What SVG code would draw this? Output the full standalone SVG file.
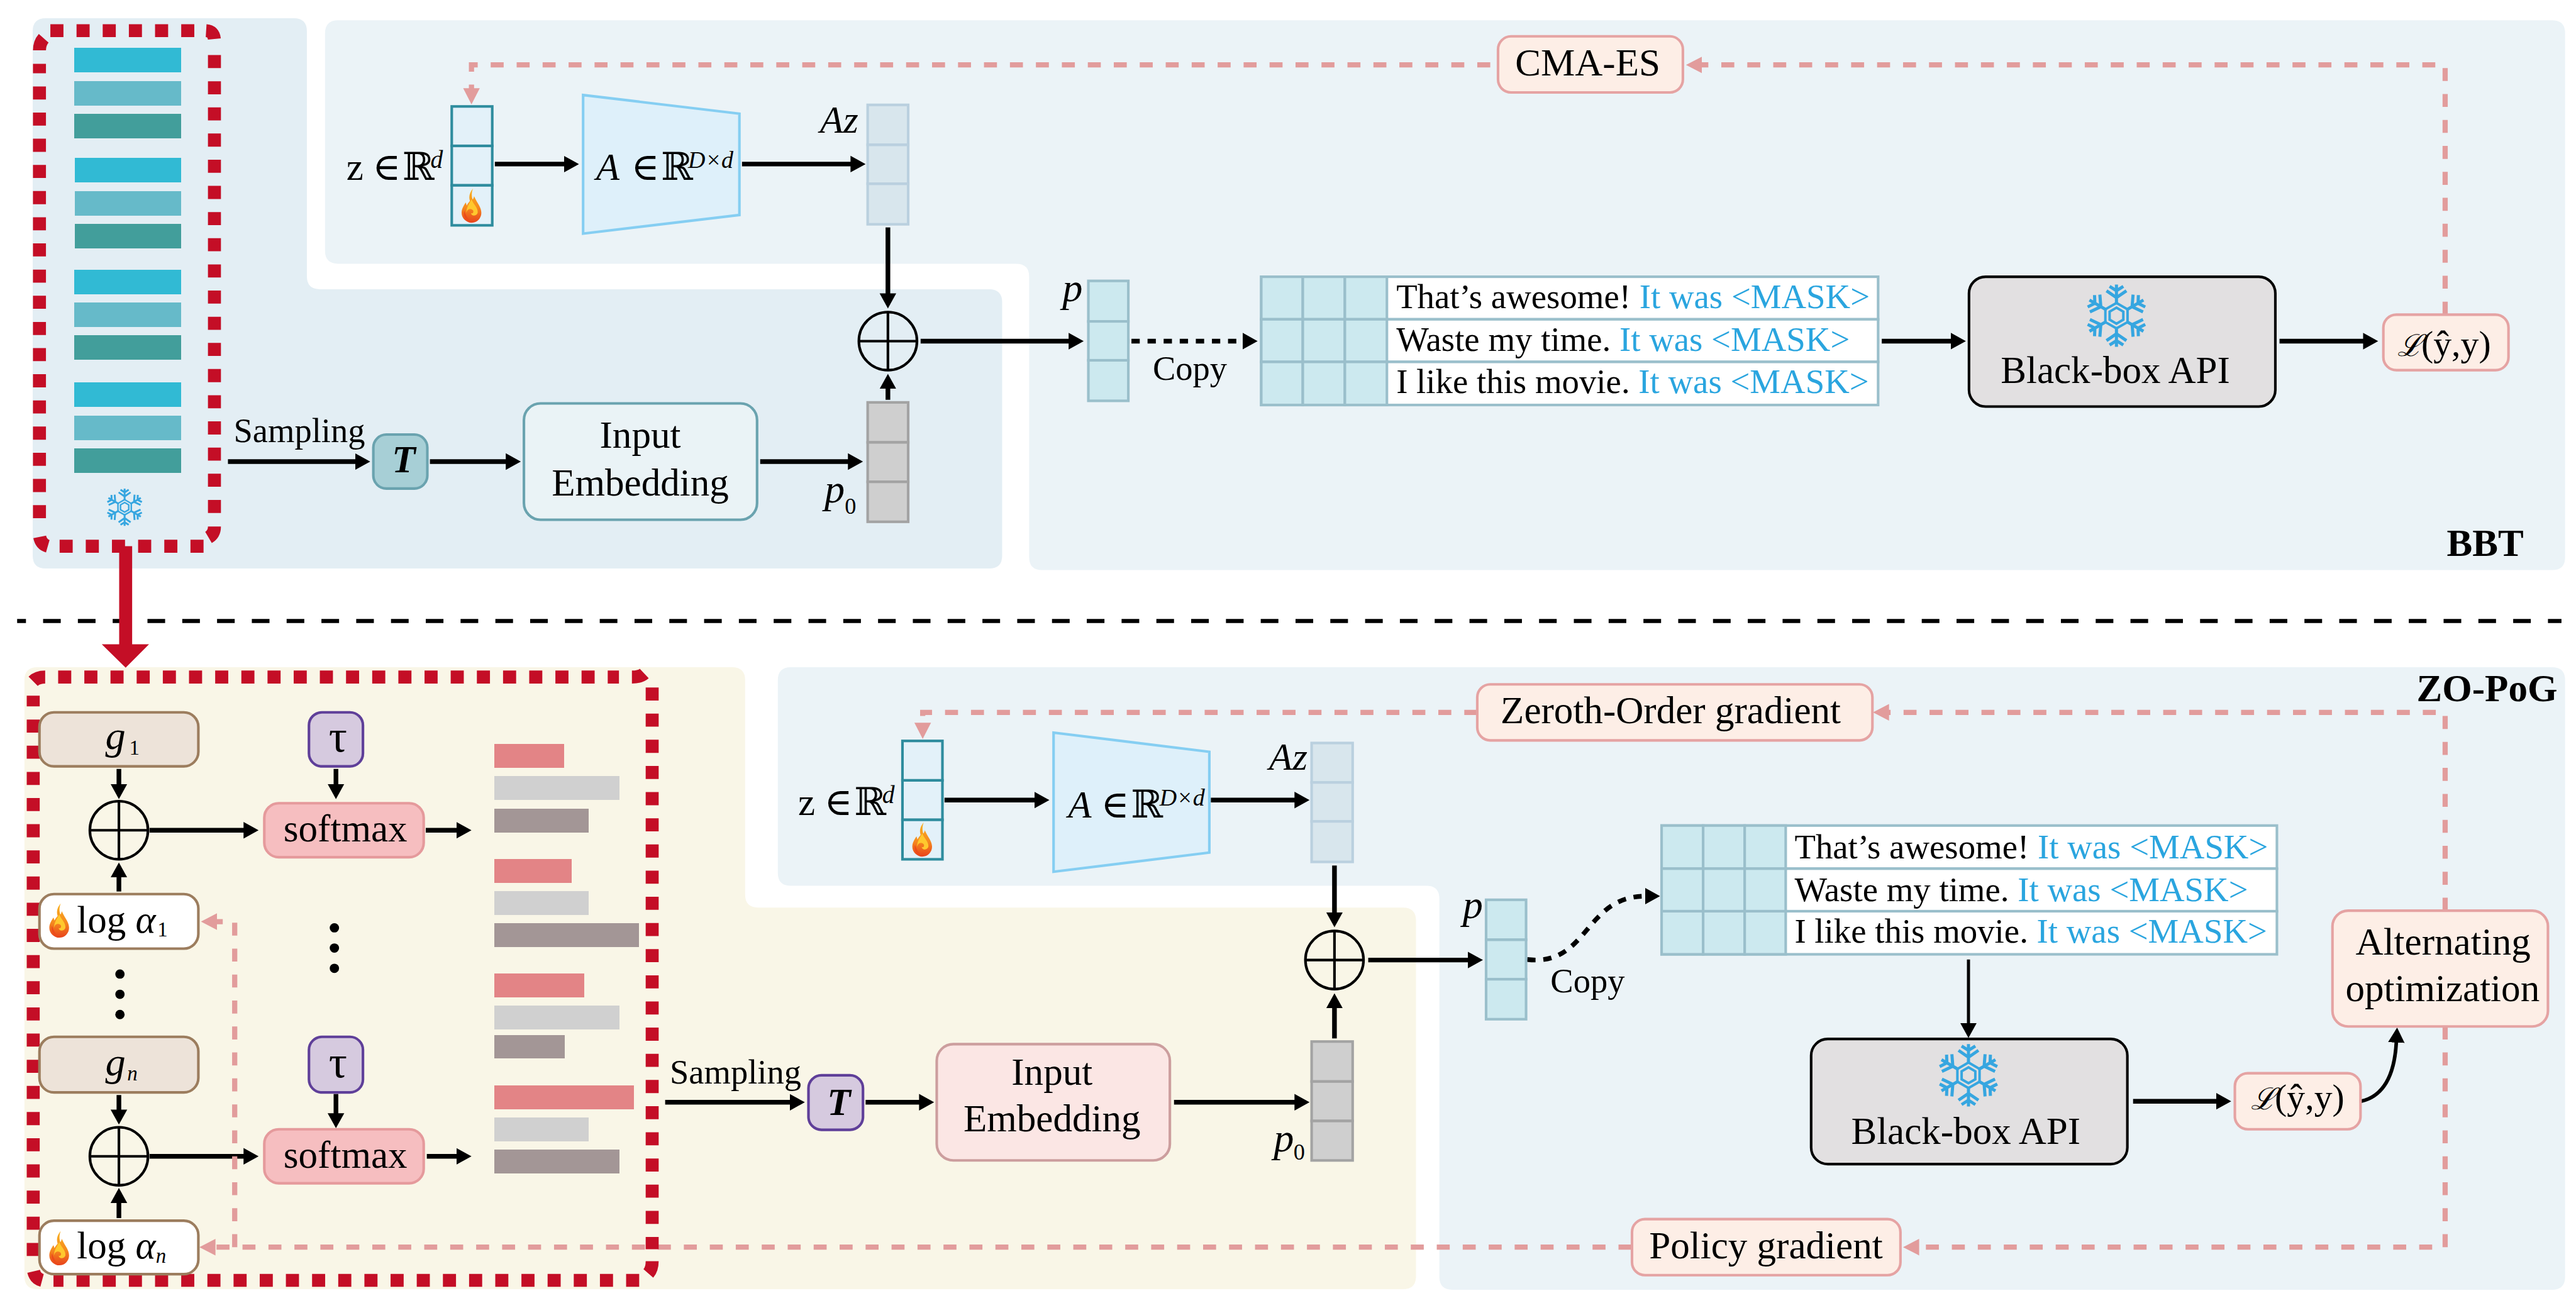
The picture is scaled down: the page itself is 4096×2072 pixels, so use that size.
<svg xmlns="http://www.w3.org/2000/svg" width="4096" height="2072" viewBox="0 0 4096 2072">
<style>
text{font-family:"Liberation Serif","DejaVu Serif",serif;fill:#000}
.s74{font-size:74px}.s66{font-size:66px}.s46{font-size:46px}.s48{font-size:48px}.s44{font-size:44px}.s40{font-size:40px}.s70{font-size:70px}.s58{font-size:58px}.s88{font-size:88px}.s78{font-size:78px}.s664{font-size:66.4px}
.i{font-style:italic}.b{font-weight:bold}
.blue{fill:#2AA5DF}
.sys{font-family:"DejaVu Serif","Liberation Serif",serif}
.ln{fill:none;stroke:#000;stroke-width:9}
.thin{fill:none;stroke:#000;stroke-width:5}
.pk{fill:none;stroke:#E29C9C;stroke-width:10;stroke-dasharray:25 25}
.bar{shape-rendering:crispEdges}
.red{fill:none;stroke:#C40E26;stroke-width:25;stroke-dasharray:25.2 25.2}
.pbox{fill:#FDEEE6;stroke:#E5A3A3;stroke-width:5}
.gumb{fill:#EDE3D9;stroke:#9C7D5E;stroke-width:5}
.logb{fill:#fff;stroke:#9C7D5E;stroke-width:5}
.tau{fill:#D6CADF;stroke:#5F3F99;stroke-width:5}
.soft{fill:#F6BEC0;stroke:#E59A9C;stroke-width:5}
.api{fill:#E2E0E1;stroke:#000;stroke-width:5}
.cellz{fill:#E3F1F9;stroke:#2E8C9E;stroke-width:5}
.cella{fill:#D8E6ED;stroke:#BAD0DF;stroke-width:5}
.cellp{fill:#CCE9EF;stroke:#9ABFCB;stroke-width:5}
.cell0{fill:#CFCFCF;stroke:#A3A3A3;stroke-width:5}
.trap{fill:#DEF0FA;stroke:#85CEF2;stroke-width:5}
.w{fill:#fff;stroke:#9ABFCB;stroke-width:5}
</style>
<defs>
<marker id="ah" markerUnits="userSpaceOnUse" markerWidth="30" markerHeight="34" refX="1" refY="17" orient="auto"><path d="M0,1 L29,17 L0,33Z" fill="#000"/></marker>
<marker id="ap" markerUnits="userSpaceOnUse" markerWidth="32" markerHeight="34" refX="1" refY="17" orient="auto"><path d="M0,1 L31,17 L0,33Z" fill="#E29C9C"/></marker>
<linearGradient id="fg" x1="0" y1="0" x2="0" y2="1"><stop offset="0" stop-color="#F9B21F"/><stop offset=".55" stop-color="#F58A1F"/><stop offset="1" stop-color="#E8431C"/></linearGradient>
<g id="flame">
<path fill="url(#fg)" d="M3,-33 C-3,-26 -6,-18 -3,-9 C-6,-5 -8,-3 -9,0 L-11,-6 C-15,0 -19,6 -19,14 C-19,25 -9,33 0,33 C11,33 19,24 19,14 C19,4 12,-4 8,-12 L5,-18 C4,-14 3,-12 2,-12 C0,-18 0,-26 3,-33Z"/>
<path fill="#FFC82E" d="M0,-12 C-4,-4 -10,4 -10,14 C-8,6 -2,4 3,9 C5,14 1,16 -1,14 C0,22 10,20 12,14 C13,4 4,-2 0,-12Z"/>
<path fill="#EC4B1B" d="M-14,10 C-17,20 -10,31 0,32 C-8,26 -11,18 -14,10Z"/>
</g>
<g id="arm"><path fill="none" stroke="#36A6E0" stroke-width="5" d="M0,-18 V-50 M-11,-47 L0,-40 L11,-47 M-16,-40 L0,-29 L16,-40"/></g>
<g id="flake">
<path fill="none" stroke="#36A6E0" stroke-width="4" d="M0,-20.5 L17.8,-10.2 V10.2 L0,20.5 L-17.8,10.2 V-10.2Z M0,-12.8 L11,-6.4 V6.4 L0,12.8 L-11,6.4 V-6.4Z"/>
<use href="#arm"/><use href="#arm" transform="rotate(60)"/><use href="#arm" transform="rotate(120)"/><use href="#arm" transform="rotate(180)"/><use href="#arm" transform="rotate(240)"/><use href="#arm" transform="rotate(300)"/>
</g>
</defs>
<g transform="scale(0.82564)">
<g id="panels">
<path fill="#E3EEF4" d="M88,35 H566 Q591,35 591,60 V532 Q591,557 616,557 H1905 Q1930,557 1930,582 V1070 Q1930,1095 1905,1095 H88 Q63,1095 63,1070 V60 Q63,35 88,35Z"/>
<path fill="#EBF3F7" d="M651,39 H4915 Q4940,39 4940,64 V1073 Q4940,1098 4915,1098 H2007 Q1982,1098 1982,1073 V533 Q1982,508 1957,508 H651 Q626,508 626,483 V64 Q626,39 651,39Z"/>
<path fill="#F9F6E7" d="M72,1285 H1410 Q1435,1285 1435,1310 V1723 Q1435,1748 1460,1748 H2702 Q2727,1748 2727,1773 V2458 Q2727,2483 2702,2483 H72 Q47,2483 47,2458 V1310 Q47,1285 72,1285Z"/>
<path fill="#EBF3F7" d="M1523,1285 H4915 Q4940,1285 4940,1310 V2459 Q4940,2484 4915,2484 H2797 Q2772,2484 2772,2459 V1731 Q2772,1706 2747,1706 H1523 Q1498,1706 1498,1681 V1310 Q1498,1285 1523,1285Z"/>
</g>
<g id="separator"><path d="M33,1196 H4933" fill="none" stroke="#000" stroke-width="8" stroke-dasharray="34 33" stroke-dashoffset="17"/></g>

<g id="prompt-pool-top">
<g class="bar"><rect x="143" y="92" width="206" height="47" fill="#31BAD4"/><rect x="143" y="156" width="206" height="47" fill="#66BAC9"/><rect x="143" y="219" width="206" height="47" fill="#429E9B"/>
<rect x="144" y="304" width="205" height="47" fill="#31BAD4"/><rect x="144" y="368" width="205" height="47" fill="#66BAC9"/><rect x="144" y="431" width="205" height="47" fill="#429E9B"/>
<rect x="143" y="520" width="206" height="47" fill="#31BAD4"/><rect x="143" y="583" width="206" height="47" fill="#66BAC9"/><rect x="143" y="646" width="206" height="47" fill="#429E9B"/>
<rect x="143" y="737" width="206" height="47" fill="#31BAD4"/><rect x="143" y="801" width="206" height="47" fill="#66BAC9"/><rect x="143" y="864" width="206" height="47" fill="#429E9B"/></g>
<use href="#flake" transform="translate(240,977) scale(.72)"/>
<path class="red" d="M97,59 H375 M397,59 Q413,60 413,79 M413,106 V989 M413,1014 Q413,1032 395,1038 M392,1052 H114 M92,1052 Q78,1048 76,1031 M76,998 V123 M76,97 Q76,80 88,70"/>
<path d="M229.500,1052 H254.500 V1241 H287 L242,1286 L196,1241 H229.500Z" fill="#C40E26"/>
</g>

<g id="connectors">
<g id="conn-black">
<path class="ln" marker-end="url(#ah)" d="M953,316 H1087"/>
<path class="ln" marker-end="url(#ah)" d="M1429,316 H1639"/>
<path class="ln" marker-end="url(#ah)" d="M1710,438 V566"/>
<path class="ln" marker-end="url(#ah)" d="M1710,770 V748"/>
<path class="ln" marker-end="url(#ah)" d="M1773,657 H2059"/>
<path class="ln" marker-end="url(#ah)" stroke-dasharray="16 15" d="M2179,657 H2394"/>
<path class="ln" marker-end="url(#ah)" d="M439,889 H685"/>
<path class="ln" marker-end="url(#ah)" d="M828,889 H975"/>
<path class="ln" marker-end="url(#ah)" d="M1464,889 H1634"/>
<path class="ln" marker-end="url(#ah)" d="M3624,657 H3758"/>
<path class="ln" marker-end="url(#ah)" d="M4390,657 H4552"/>
<path class="ln" marker-end="url(#ah)" d="M229,1481 V1511"/>
<path class="ln" marker-end="url(#ah)" d="M229,1717 V1689"/>
<path class="ln" marker-end="url(#ah)" d="M288,1599 H470"/>
<path class="ln" marker-end="url(#ah)" d="M647,1481 V1511"/>
<path class="ln" marker-end="url(#ah)" d="M820,1599 H880"/>
<path class="ln" marker-end="url(#ah)" d="M229,2109 V2138"/>
<path class="ln" marker-end="url(#ah)" d="M229,2346 V2316"/>
<path class="ln" marker-end="url(#ah)" d="M288,2227 H470"/>
<path class="ln" marker-end="url(#ah)" d="M647,2107 V2145"/>
<path class="ln" marker-end="url(#ah)" d="M822,2227 H880"/>
<path class="ln" marker-end="url(#ah)" d="M1819,1541 H1993"/>
<path class="ln" marker-end="url(#ah)" d="M2332,1541 H2494"/>
<path class="ln" marker-end="url(#ah)" d="M2570,1667 V1758"/>
<path class="ln" marker-end="url(#ah)" d="M2570,2000 V1941"/>
<path class="ln" marker-end="url(#ah)" d="M2635,1849 H2828"/>
<path class="ln" marker-end="url(#ah)" d="M1281,2123 H1522"/>
<path class="ln" marker-end="url(#ah)" d="M1667,2123 H1771"/>
<path class="ln" marker-end="url(#ah)" d="M2261,2123 H2494"/>
<path class="ln" marker-end="url(#ah)" stroke-dasharray="16 15" d="M2941,1848 C3060,1862 3050,1726 3169,1726"/>
<path class="ln" style="stroke-width:6" marker-end="url(#ah)" d="M3791,1848 V1971"/>
<path class="ln" marker-end="url(#ah)" d="M4108,2121 H4269"/>
<path class="ln" style="stroke-width:7" marker-end="url(#ah)" d="M4547,2121 C4596,2110 4612,2062 4615,2007"/>
</g>
<g id="conn-pink">
<path class="pk" marker-end="url(#ap)" d="M4709,606 V125 H3277"/>
<path class="pk" marker-end="url(#ap)" style="stroke-dashoffset:35" d="M2885,125 H908 V171"/>
<path class="pk" marker-end="url(#ap)" d="M4709,1754 V1372 H3637"/>
<path class="pk" marker-end="url(#ap)" d="M2845,1372 H1777 V1393"/>
<path class="pk" marker-end="url(#ap)" d="M4709,1977 V2402 H3695"/>
<path class="pk" marker-end="url(#ap)" d="M3142,2402 H414"/>
<path class="pk" marker-end="url(#ap)" d="M452,2402 V1775 H417"/>
</g>
</g>

<g id="sum-top"><g class="thin"><circle cx="1710" cy="657" r="56"/><path d="M1654,657 H1766 M1710,601 V713"/></g></g>
<g id="z-top">
<rect class="cellz" x="870" y="205" width="78" height="76"/><rect class="cellz" x="870" y="281" width="78" height="76"/><rect class="cellz" x="870" y="357" width="78" height="77"/>
<use href="#flame" transform="translate(908,396)"/>
<text class="s74" x="667" y="346">z</text><text class="s74 sys" x="717" y="346">∈</text><text class="s74 sys" x="775" y="346">ℝ</text><text class="s48 i" x="829" y="323">d</text>
</g>
<g id="matrix-top">
<path class="trap" d="M1123,183 L1424,219 V414 L1123,450Z"/>
<text class="s74 i" x="1148" y="346">A</text><text class="s74 sys" x="1215" y="346">∈</text><text class="s74 sys" x="1273" y="346">ℝ</text><text class="s46 i" x="1325" y="323">D×d</text>
</g>
<g id="az-top">
<rect class="cella" x="1671" y="202" width="78" height="77"/><rect class="cella" x="1671" y="279" width="78" height="75"/><rect class="cella" x="1671" y="354" width="78" height="78"/>
<text class="s74 i" x="1579" y="256">Az</text>
</g>
<g id="p-top">
<rect class="cellp" x="2096" y="541" width="77" height="78"/><rect class="cellp" x="2096" y="619" width="77" height="75"/><rect class="cellp" x="2096" y="694" width="77" height="78"/>
<text class="s78 i" x="2046" y="580">p</text>
</g>
<g id="p0-top">
<rect class="cell0" x="1671" y="775" width="78" height="77"/><rect class="cell0" x="1671" y="852" width="78" height="76"/><rect class="cell0" x="1671" y="928" width="78" height="77"/>
<text class="s78 i" x="1588" y="968">p</text><text class="s44" x="1627" y="990">0</text>
</g>
<text id="copy-top" class="s66" x="2220" y="732">Copy</text>
<text id="sampling-top" class="s66" x="450" y="852">Sampling</text>
<g id="t-top"><rect x="719" y="837" width="104" height="104" rx="25" fill="#A7CFD6" stroke="#6AA3AF" stroke-width="5"/><text class="s74 i b" x="755" y="910">T</text></g>
<g id="embed-top"><rect x="1009" y="777" width="449" height="224" rx="32" fill="#EAF3F6" stroke="#6AA3AF" stroke-width="5"/>
<text class="s74" x="1233" y="862" text-anchor="middle">Input</text><text class="s74" x="1233" y="954" text-anchor="middle">Embedding</text></g>
<g id="table-top">
<rect class="w" x="2429" y="533" width="1188" height="82"/><rect class="w" x="2429" y="615" width="1188" height="82"/><rect class="w" x="2429" y="697" width="1188" height="83"/>
<g class="cellp"><rect x="2429" y="533" width="80" height="82"/><rect x="2509" y="533" width="81" height="82"/><rect x="2590" y="533" width="81" height="82"/><rect x="2429" y="615" width="80" height="82"/><rect x="2509" y="615" width="81" height="82"/><rect x="2590" y="615" width="81" height="82"/><rect x="2429" y="697" width="80" height="83"/><rect x="2509" y="697" width="81" height="83"/><rect x="2590" y="697" width="81" height="83"/></g>
<text class="s664" x="2689" y="594">That’s awesome! <tspan class="blue">It was &lt;MASK&gt;</tspan></text>
<text class="s664" x="2689" y="676">Waste my time. <tspan class="blue">It was &lt;MASK&gt;</tspan></text>
<text class="s664" x="2689" y="757">I like this movie. <tspan class="blue">It was &lt;MASK&gt;</tspan></text>
</g>
<g id="api-top"><rect class="api" x="3792" y="533" width="590" height="250" rx="32"/><use href="#flake" transform="translate(4076,608) scale(1.2)"/><text class="s74" x="3853" y="738">Black-box API</text></g>
<g id="loss-top"><rect class="pbox" x="4590" y="606" width="241" height="107" rx="25"/><text class="s58 sys i" x="4617" y="686">ℒ</text><text class="s70" x="4663" y="686">(ŷ,y)</text></g>
<g id="cma"><rect class="pbox" x="2885" y="70" width="356" height="108" rx="25"/><text class="s74" x="2918" y="145">CMA-ES</text></g>
<text id="bbt" class="s74 b" x="4712" y="1071">BBT</text>

<g id="bars-bottom" class="bar">
<rect x="952" y="1433" width="135" height="46" fill="#E38486"/><rect x="952" y="1495" width="241" height="46" fill="#D0D0D0"/><rect x="952" y="1557" width="182" height="46" fill="#A39696"/>
<rect x="952" y="1654" width="149" height="46" fill="#E38486"/><rect x="952" y="1716" width="182" height="46" fill="#D0D0D0"/><rect x="952" y="1778" width="279" height="46" fill="#A39696"/>
<rect x="952" y="1875" width="173" height="46" fill="#E38486"/><rect x="952" y="1937" width="241" height="46" fill="#D0D0D0"/><rect x="952" y="1993" width="136" height="46" fill="#A39696"/>
<rect x="952" y="2090" width="269" height="46" fill="#E38486"/><rect x="952" y="2152" width="182" height="46" fill="#D0D0D0"/><rect x="952" y="2214" width="241" height="46" fill="#A39696"/>
</g>
<g id="red-box-bottom"><path class="red" d="M112,1304 H1192 M1217,1304 Q1238,1304 1244,1293 M1256,1324 V2406 M1256,2429 Q1256,2450 1242,2458 M1231,2466 H103 M81,2466 Q66,2462 64,2444 M64,2419 V1340 M87,1304 Q68,1304 60,1317"/></g>
<g id="g1"><rect class="gumb" x="76" y="1372" width="306" height="104" rx="28"/><text class="s78 i" x="203" y="1443">g</text><text class="s40" x="249" y="1453">1</text></g>
<g id="sum1"><g class="thin"><circle cx="229" cy="1599" r="56"/><path d="M173,1599 H285 M229,1543 V1655"/></g></g>
<g id="log1"><rect class="logb" x="76" y="1722" width="306" height="105" rx="28"/><use href="#flame" transform="translate(114,1773)"/><text class="s74" x="148" y="1796">log</text><text class="s74 i" x="261" y="1796">α</text><text class="s40" x="303" y="1804">1</text></g>
<g id="gn"><rect class="gumb" x="76" y="1997" width="306" height="107" rx="28"/><text class="s78 i" x="203" y="2071">g</text><text class="s40 i" x="245" y="2081">n</text></g>
<g id="sumn"><g class="thin"><circle cx="229" cy="2227" r="56"/><path d="M173,2227 H285 M229,2171 V2283"/></g></g>
<g id="logn"><rect class="logb" x="76" y="2351" width="306" height="103" rx="28"/><use href="#flame" transform="translate(114,2404)"/><text class="s74" x="148" y="2424">log</text><text class="s74 i" x="261" y="2424">α</text><text class="s40 i" x="300" y="2432">n</text></g>
<g id="dots-left" fill="#000"><circle cx="231" cy="1876" r="9"/><circle cx="231" cy="1915" r="9"/><circle cx="231" cy="1954" r="9"/></g>
<g id="dots-mid" fill="#000"><circle cx="644" cy="1787" r="9"/><circle cx="644" cy="1826" r="9"/><circle cx="644" cy="1865" r="9"/></g>
<g id="tau1"><rect class="tau" x="595" y="1372" width="104" height="104" rx="25"/><text class="s88" x="651" y="1447" text-anchor="middle">τ</text></g>
<g id="taun"><rect class="tau" x="595" y="1997" width="104" height="107" rx="25"/><text class="s88" x="651" y="2075" text-anchor="middle">τ</text></g>
<g id="softmax1"><rect class="soft" x="509" y="1547" width="307" height="104" rx="28"/><text class="s74" x="546" y="1621">softmax</text></g>
<g id="softmaxn"><rect class="soft" x="509" y="2175" width="307" height="104" rx="28"/><text class="s74" x="546" y="2249">softmax</text></g>

<text id="sampling-bot" class="s66" x="1290" y="2087">Sampling</text>
<g id="t-bot"><rect class="tau" x="1557" y="2071" width="105" height="105" rx="25"/><text class="s74 i b" x="1593" y="2147">T</text></g>
<g id="embed-bot"><rect x="1804" y="2011" width="449" height="224" rx="32" fill="#FBE6E4" stroke="#CC9E9E" stroke-width="5"/>
<text class="s74" x="2026" y="2089" text-anchor="middle">Input</text><text class="s74" x="2026" y="2179" text-anchor="middle">Embedding</text></g>
<g id="sum-bot"><g class="thin"><circle cx="2570" cy="1849" r="56"/><path d="M2514,1849 H2626 M2570,1793 V1905"/></g></g>
<g id="z-bot">
<rect class="cellz" x="1738" y="1427" width="77" height="76"/><rect class="cellz" x="1738" y="1503" width="77" height="76"/><rect class="cellz" x="1738" y="1579" width="77" height="76"/>
<use href="#flame" transform="translate(1776,1617)"/>
<text class="s74" x="1537" y="1570">z</text><text class="s74 sys" x="1587" y="1570">∈</text><text class="s74 sys" x="1645" y="1570">ℝ</text><text class="s48 i" x="1699" y="1547">d</text>
</g>
<g id="matrix-bot">
<path class="trap" d="M2029,1411 L2329,1448 V1642 L2029,1679Z"/>
<text class="s74 i" x="2057" y="1575">A</text><text class="s74 sys" x="2120" y="1575">∈</text><text class="s74 sys" x="2178" y="1575">ℝ</text><text class="s46 i" x="2233" y="1551">D×d</text>
</g>
<g id="az-bot">
<rect class="cella" x="2526" y="1431" width="79" height="76"/><rect class="cella" x="2526" y="1507" width="79" height="75"/><rect class="cella" x="2526" y="1582" width="79" height="78"/>
<text class="s74 i" x="2444" y="1483">Az</text>
</g>
<g id="p-bot">
<rect class="cellp" x="2862" y="1733" width="77" height="77"/><rect class="cellp" x="2862" y="1810" width="77" height="76"/><rect class="cellp" x="2862" y="1886" width="77" height="77"/>
<text class="s78 i" x="2817" y="1768">p</text>
</g>
<g id="p0-bot">
<rect class="cell0" x="2526" y="2006" width="79" height="77"/><rect class="cell0" x="2526" y="2083" width="79" height="76"/><rect class="cell0" x="2526" y="2159" width="79" height="76"/>
<text class="s78 i" x="2453" y="2218">p</text><text class="s44" x="2491" y="2234">0</text>
</g>
<text id="copy-bot" class="s66" x="2986" y="1911">Copy</text>
<g id="table-bot">
<rect class="w" x="3200" y="1590" width="1185" height="83"/><rect class="w" x="3200" y="1673" width="1185" height="82"/><rect class="w" x="3200" y="1755" width="1185" height="83"/>
<g class="cellp"><rect x="3200" y="1590" width="80" height="83"/><rect x="3280" y="1590" width="80" height="83"/><rect x="3360" y="1590" width="79" height="83"/><rect x="3200" y="1673" width="80" height="82"/><rect x="3280" y="1673" width="80" height="82"/><rect x="3360" y="1673" width="79" height="82"/><rect x="3200" y="1755" width="80" height="83"/><rect x="3280" y="1755" width="80" height="83"/><rect x="3360" y="1755" width="79" height="83"/></g>
<text class="s664" x="3456" y="1653">That’s awesome! <tspan class="blue">It was &lt;MASK&gt;</tspan></text>
<text class="s664" x="3456" y="1736">Waste my time. <tspan class="blue">It was &lt;MASK&gt;</tspan></text>
<text class="s664" x="3456" y="1816">I like this movie. <tspan class="blue">It was &lt;MASK&gt;</tspan></text>
</g>
<g id="api-bot"><rect class="api" x="3488" y="2001" width="609" height="241" rx="32"/><use href="#flake" transform="translate(3791,2071) scale(1.2)"/><text class="s74" x="3565" y="2203">Black-box API</text></g>
<g id="loss-bot"><rect class="pbox" x="4304" y="2067" width="242" height="108" rx="25"/><text class="s58 sys i" x="4335" y="2136">ℒ</text><text class="s70" x="4381" y="2136">(ŷ,y)</text></g>
<g id="alt"><rect class="pbox" x="4492" y="1754" width="415" height="223" rx="30"/><text class="s74" x="4705" y="1838" text-anchor="middle">Alternating</text><text class="s74" x="4704" y="1928" text-anchor="middle">optimization</text></g>
<g id="zo"><rect class="pbox" x="2845" y="1318" width="761" height="108" rx="25"/><text class="s74" x="2890" y="1393">Zeroth-Order gradient</text></g>
<g id="pg"><rect class="pbox" x="3143" y="2348" width="517" height="108" rx="25"/><text class="s74" x="3176" y="2424">Policy gradient</text></g>
<text id="zopog" class="s74 b" x="4654" y="1350">ZO-PoG</text>
</g>
</svg>
